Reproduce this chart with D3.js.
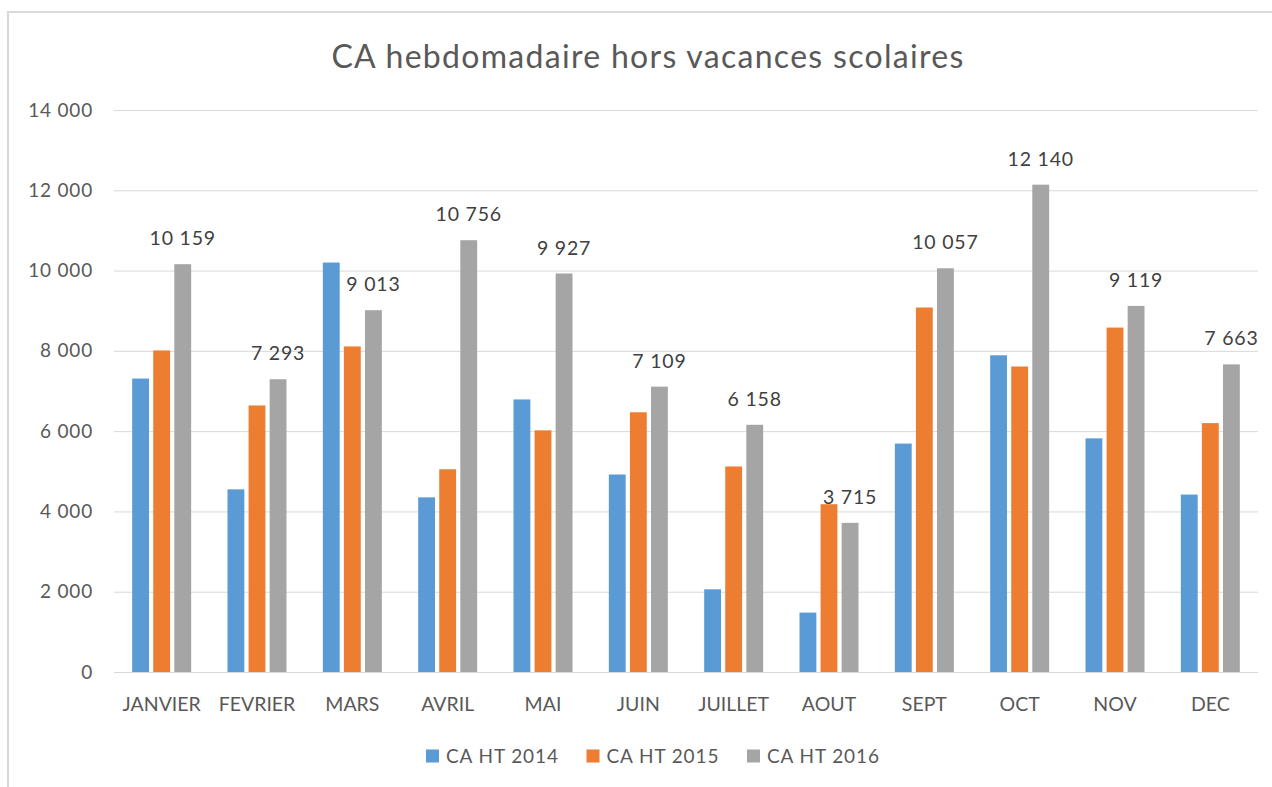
<!DOCTYPE html>
<html>
<head>
<meta charset="utf-8">
<script src="https://cdn.jsdelivr.net/npm/d3@7"></script>
<style>
  body { margin: 0; background: #fff; }
  text { font-family: Lato, "Liberation Sans", sans-serif; }
</style>
</head>
<body>
<div id="chart"></div>
<script>
// data
var months = ["JANVIER", "FEVRIER", "MARS", "AVRIL", "MAI", "JUIN", "JUILLET", "AOUT", "SEPT", "OCT", "NOV", "DEC"];
var ca2014 = [7310, 4550, 10200, 4350, 6790, 4920, 2060, 1480, 5690, 7890, 5820, 4420];
var ca2015 = [8010, 6640, 8110, 5050, 6020, 6470, 5120, 4180, 9080, 7610, 8580, 6200];
var ca2016 = [10159, 7293, 9013, 10756, 9927, 7109, 6158, 3715, 10057, 12140, 9119, 7663];
var seriesNames = ["CA HT 2014", "CA HT 2015", "CA HT 2016"];
var colors = ["#5b9bd5", "#ed7d31", "#a5a5a5"];
var yTicks = [0, 2000, 4000, 6000, 8000, 10000, 12000, 14000];

// set the dimensions and margins of the graph
var W = 1272, H = 787;
var margin = {top: 110, right: 14, bottom: 115, left: 114},
    width = W - margin.left - margin.right,
    height = H - margin.top - margin.bottom;

var fr = d3.formatLocale({decimal: ",", thousands: " ", grouping: [3], currency: ["", " €"]});
var fmt = fr.format(",d");

var root = d3.select("#chart")
  .append("svg")
    .attr("width", W)
    .attr("height", H);

// chart frame
root.append("rect")
  .attr("x", 8).attr("y", 12)
  .attr("width", W).attr("height", H)
  .attr("fill", "none")
  .attr("stroke", "#d9d9d9")
  .attr("stroke-width", 2);

// title
root.append("text")
  .attr("x", 648).attr("y", 68)
  .attr("text-anchor", "middle")
  .style("font-size", "32px")
  .style("letter-spacing", "1.3px")
  .style("fill", "#595959")
  .text("CA hebdomadaire hors vacances scolaires");

var svg = root.append("g")
  .attr("transform", "translate(" + margin.left + "," + margin.top + ")");

var x0 = d3.scaleBand().domain(months).range([0, width]).padding(0);
var x1 = d3.scaleBand().domain(seriesNames)
  .range([x0.bandwidth() / 2 - 29.5, x0.bandwidth() / 2 + 29.5])
  .paddingInner(0.2);
var y = d3.scaleLinear().domain([0, 14000]).range([height, 0]);

// Y axis with gridlines
var yAxis = svg.append("g")
  .call(d3.axisLeft(y).tickValues(yTicks).tickSize(-width).tickPadding(21).tickFormat(fmt));
yAxis.select(".domain").remove();
yAxis.selectAll("line").attr("stroke", "#d9d9d9");
yAxis.selectAll("text").style("font-size", "19px").style("letter-spacing", "0.8px").style("fill", "#595959");

// X axis
var xAxis = svg.append("g")
  .attr("transform", "translate(0," + height + ")")
  .call(d3.axisBottom(x0).tickSize(0).tickPadding(25));
xAxis.select(".domain").remove();
xAxis.selectAll("text").style("font-size", "19.5px").style("fill", "#595959");

var rows = months.map(function(m, i) {
  return {month: m, values: [ca2014[i], ca2015[i], ca2016[i]]};
});

var groups = svg.append("g")
  .selectAll("g")
  .data(rows)
  .enter()
  .append("g")
    .attr("transform", function(d) { return "translate(" + x0(d.month) + ",0)"; });

groups.selectAll("rect")
  .data(function(d) { return d.values.map(function(v, k) { return {name: seriesNames[k], value: v, k: k}; }); })
  .enter()
  .append("rect")
    .attr("x", function(d) { return x1(d.name); })
    .attr("y", function(d) { return y(d.value); })
    .attr("width", x1.bandwidth())
    .attr("height", function(d) { return height - y(d.value); })
    .attr("fill", function(d) { return colors[d.k]; });

// data labels on the 2016 series only
groups.append("text")
  .attr("x", function(d) { return x1(seriesNames[2]) + x1.bandwidth() / 2; })
  .attr("y", function(d) { return y(d.values[2]) - 19; })
  .attr("text-anchor", "middle")
  .style("font-size", "19.5px")
  .style("letter-spacing", "0.8px")
  .style("fill", "#404040")
  .text(function(d) { return fmt(d.values[2]); });

// legend
var legend = root.append("g")
  .selectAll("g")
  .data(seriesNames)
  .enter()
  .append("g")
    .attr("transform", function(d, i) { return "translate(" + (426 + i * 160.5) + ",756)"; });

legend.append("rect")
  .attr("x", 0).attr("y", -6.5)
  .attr("width", 13).attr("height", 13)
  .attr("fill", function(d, i) { return colors[i]; });

legend.append("text")
  .attr("x", 20).attr("y", 0)
  .attr("dy", "0.35em")
  .style("font-size", "19px")
  .style("letter-spacing", "0.9px")
  .style("fill", "#595959")
  .text(function(d) { return d; });
</script>
</body>
</html>
